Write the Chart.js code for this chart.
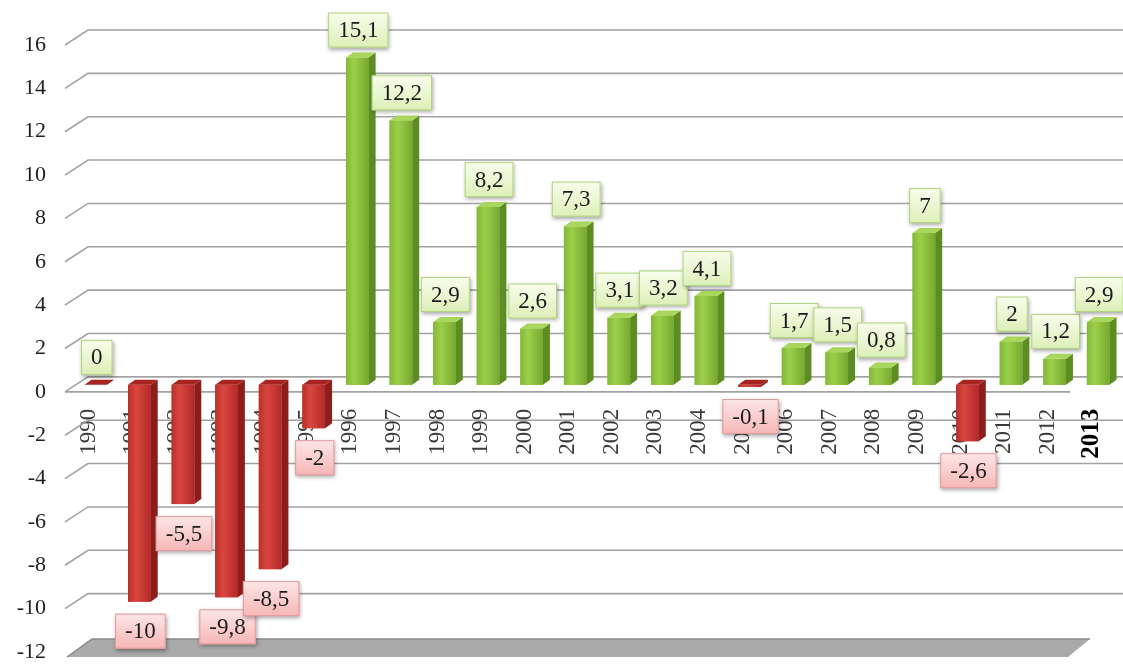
<!DOCTYPE html>
<html>
<head>
<meta charset="utf-8">
<script src="https://cdn.jsdelivr.net/npm/chart.js@4.4.1/dist/chart.umd.min.js"></script>
<style>
html,body{margin:0;padding:0;background:#ffffff;}
#wrap{width:1123px;height:665px;position:relative;}
</style>
</head>
<body>
<div id="wrap"><canvas id="c"></canvas></div>
<script>
// ---- data ----
const years = ['1990','1991','1992','1993','1994','1995','1996','1997','1998','1999','2000','2001','2002','2003','2004','2005','2006','2007','2008','2009','2010','2011','2012','2013'];
const growth = [0, -10, -5.5, -9.8, -8.5, -2, 15.1, 12.2, 2.9, 8.2, 2.6, 7.3, 3.1, 3.2, 4.1, -0.1, 1.7, 1.5, 0.8, 7, -2.6, 2, 1.2, 2.9];
const yTickValues = [-12, -10, -8, -6, -4, -2, 0, 2, 4, 6, 8, 10, 12, 14, 16];
const labelText = growth.map(v => String(v).replace('.', ','));

const SERIF = '"Liberation Serif", "Times New Roman", "DejaVu Serif", serif';
const DX = 7, DY = 5;

const backdrop = {
  id: 'backdrop',
  beforeDatasetsDraw(chart) {
    const {ctx, chartArea: ca, scales: {y}} = chart;
    ctx.save();
    const pm = y.getPixelForValue(y.min);
    ctx.beginPath();
    ctx.moveTo(ca.left - 7, pm + 12);
    ctx.lineTo(ca.left + 18, pm - 6);
    ctx.lineTo(ca.right - 30, pm - 6);
    ctx.lineTo(ca.right - 52, pm + 12);
    ctx.closePath();
    ctx.fillStyle = '#aaaaaa';
    ctx.fill();
    ctx.strokeStyle = '#8a8a8a';
    ctx.lineWidth = 1.5;
    ctx.beginPath();
    ctx.moveTo(ca.left - 7, pm + 12);
    ctx.lineTo(ca.left + 18, pm - 6);
    ctx.lineTo(ca.right - 30, pm - 6);
    ctx.stroke();
    ctx.strokeStyle = '#a2a2a2';
    ctx.lineWidth = 1.6;
    yTickValues.forEach(v => {
      if (v === y.min) return;
      const p = y.getPixelForValue(v);
      ctx.beginPath();
      ctx.moveTo(ca.left - 9, p + 7);
      ctx.lineTo(ca.left + 14, p - 8);
      ctx.lineTo(ca.right + 3, p - 8);
      ctx.stroke();
    });
    const z = y.getPixelForValue(0);
    ctx.beginPath();
    ctx.moveTo(ca.left - 9, z + 7);
    ctx.lineTo(ca.right - 50, z + 7);
    ctx.stroke();
    ctx.restore();
  }
};

const bars3d = {
  id: 'bars3d',
  afterDatasetsDraw(chart) {
    const ctx = chart.ctx;
    const meta = chart.getDatasetMeta(0);
    ctx.save();
    meta.data.forEach((bar, i) => {
      const v = growth[i];
      const {x, y, base, width} = bar.getProps(['x', 'y', 'base', 'width'], true);
      const l = x - width / 2, r = x + width / 2;
      const top = Math.min(y, base), bot = Math.max(y, base);
      const neg = v <= 0;
      const g = ctx.createLinearGradient(l, 0, r, 0);
      if (neg) {
        g.addColorStop(0, '#b8302b');
        g.addColorStop(0.35, '#d9463e');
        g.addColorStop(1, '#b3292a');
      } else {
        g.addColorStop(0, '#82b83a');
        g.addColorStop(0.35, '#9ccf49');
        g.addColorStop(1, '#76a92f');
      }
      ctx.fillStyle = g;
      ctx.fillRect(l, top, width, bot - top);
      ctx.beginPath();
      ctx.moveTo(r, top);
      ctx.lineTo(r + DX, top - DY);
      ctx.lineTo(r + DX, bot - DY);
      ctx.lineTo(r, bot);
      ctx.closePath();
      ctx.fillStyle = neg ? '#8c1d1a' : '#5c8c22';
      ctx.fill();
      ctx.beginPath();
      ctx.moveTo(l, top);
      ctx.lineTo(l + DX, top - DY);
      ctx.lineTo(r + DX, top - DY);
      ctx.lineTo(r, top);
      ctx.closePath();
      ctx.fillStyle = neg ? '#a82420' : '#a9d65c';
      ctx.fill();
    });
    ctx.restore();
  }
};

const valueBoxes = {
  id: 'valueBoxes',
  afterDatasetsDraw(chart) {
    const ctx = chart.ctx;
    const meta = chart.getDatasetMeta(0);
    ctx.save();
    ctx.font = '23px ' + SERIF;
    ctx.textAlign = 'center';
    ctx.textBaseline = 'middle';
    meta.data.forEach((bar, i) => {
      const v = growth[i];
      const {x, y, base} = bar.getProps(['x', 'y', 'base'], true);
      const top = Math.min(y, base), bot = Math.max(y, base);
      const txt = labelText[i];
      const tw = ctx.measureText(txt).width;
      const bw = tw + 20, bh = 35;
      const bx = x - bw / 2 + 1;
      const by = v >= 0 ? top - 10 - bh : bot + 12;
      const g = ctx.createLinearGradient(0, by, 0, by + bh);
      if (v >= 0) {
        g.addColorStop(0, '#f8fdec');
        g.addColorStop(1, '#dcf0b8');
      } else {
        g.addColorStop(0, '#fde6e6');
        g.addColorStop(1, '#f6b6b6');
      }
      ctx.shadowColor = 'rgba(0,0,0,0.35)';
      ctx.shadowBlur = 4;
      ctx.shadowOffsetX = 1;
      ctx.shadowOffsetY = 2;
      ctx.fillStyle = g;
      ctx.fillRect(bx, by, bw, bh);
      ctx.shadowColor = 'rgba(0,0,0,0)';
      ctx.lineWidth = 1;
      ctx.strokeStyle = v >= 0 ? '#b0d47e' : '#e39a9a';
      ctx.strokeRect(bx + 0.5, by + 0.5, bw - 1, bh - 1);
      ctx.fillStyle = '#1b1b1b';
      ctx.fillText(txt, bx + bw / 2, by + bh / 2 + 1);
    });
    ctx.restore();
  }
};

const zeroPad = (s) => { s.paddingLeft = 0; s.paddingRight = 0; s.paddingTop = 0; s.paddingBottom = 0; };

new Chart(document.getElementById('c'), {
  type: 'bar',
  data: {
    labels: years,
    datasets: [{
      data: growth,
      backgroundColor: growth.map(v => v <= 0 ? '#c8362f' : '#8cc23f'),
      borderWidth: 0,
      barPercentage: 0.52,
      categoryPercentage: 1.0
    }]
  },
  options: {
    responsive: true,
    maintainAspectRatio: false,
    devicePixelRatio: 1,
    animation: false,
    layout: { padding: { top: 38, bottom: 20, left: 16, right: 3 } },
    plugins: { legend: { display: false }, tooltip: { enabled: false } },
    scales: {
      x: {
        position: { y: 0 },
        grid: { display: false, drawTicks: false },
        border: { display: false },
        afterFit: zeroPad,
        ticks: {
          autoSkip: false,
          minRotation: 90,
          maxRotation: 90,
          padding: 24,
          labelOffset: -7,
          color: (c) => c.index === years.length - 1 ? '#000000' : '#3a3a3a',
          font: (c) => c.index === years.length - 1
            ? { family: SERIF, size: 25, weight: 'bold' }
            : { family: SERIF, size: 23 }
        }
      },
      y: {
        min: -12,
        max: 16,
        grid: { display: false, drawTicks: false },
        border: { display: false },
        afterBuildTicks: (s) => { s.ticks = yTickValues.map(v => ({ value: v })); },
        afterFit: (s) => { s.width = 58; zeroPad(s); },
        ticks: {
          padding: 28,
          labelOffset: 7,
          color: '#1e1e1e',
          font: { family: SERIF, size: 22 }
        }
      }
    }
  },
  plugins: [backdrop, bars3d, valueBoxes]
});
</script>
</body>
</html>
